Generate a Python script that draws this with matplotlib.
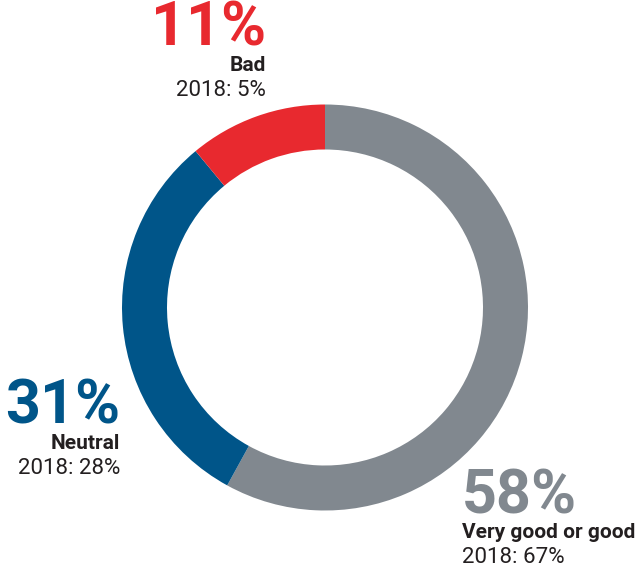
import matplotlib.pyplot as plt

plt.rcParams["font.family"] = ["Roboto", "DejaVu Sans"]

# survey answers, this year and 2018
labels = ["Very good or good", "Neutral", "Bad"]
shares = [58, 31, 11]
shares_2018 = [67, 28, 5]
colors = ["#81888f", "#005589", "#e8292f"]

W, H = 640, 571
fig = plt.figure(figsize=(W / 100, H / 100), dpi=100)
ax = fig.add_axes([0, 0, 1, 1])

# ring drawn clockwise from 12 o'clock
ax.pie(shares, colors=colors, startangle=90, counterclock=False,
       center=(325, H - 307.5), radius=203,
       wedgeprops=dict(width=45, linewidth=0))
ax.set_xlim(0, W)
ax.set_ylim(0, H)
ax.set_aspect("equal")
ax.axis("off")

# label anchors: x, baseline of the big number, alignment
anchors = {
    "Bad": (266, H - 46, "right"),
    "Neutral": (120, H - 424, "right"),
    "Very good or good": (462, H - 513, "left"),
}

for lab, val, old, col in zip(labels, shares, shares_2018, colors):
    x, y, ha = anchors[lab]
    ax.text(x, y, f"{val}%", color=col, fontsize=44, fontweight="bold",
            ha=ha, va="baseline")
    ax.text(x, y - 25, lab, color="#231f20", fontsize=15, fontweight="bold",
            ha=ha, va="baseline")
    ax.text(x, y - 50, f"2018: {old}%", color="#231f20", fontsize=16,
            ha=ha, va="baseline")

fig.savefig("out.png", dpi=100)
